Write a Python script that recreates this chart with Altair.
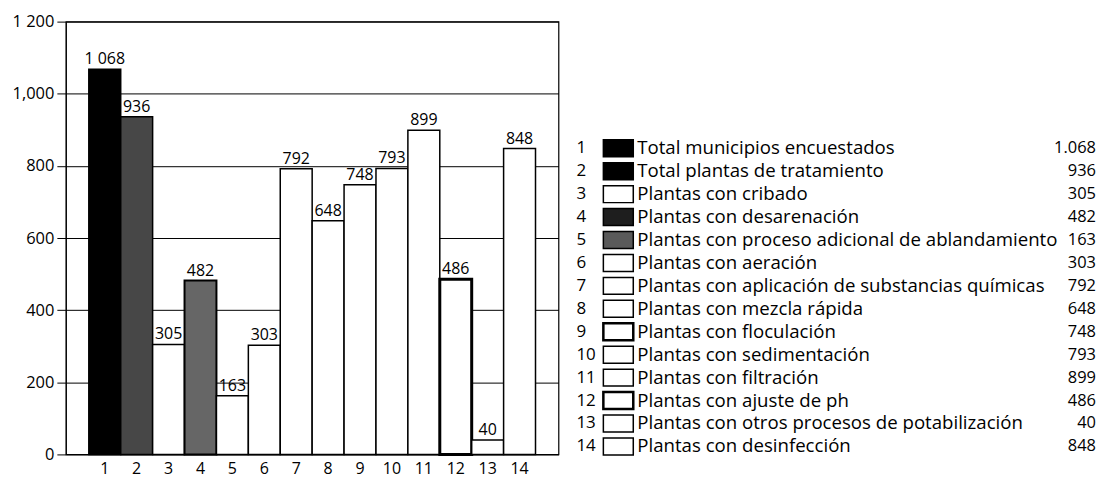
import altair as alt
import pandas as pd

FONT = "Open Sans"

categories = [str(i) for i in range(1, 15)]
values = [1068, 936, 305, 482, 163, 303, 792, 648, 748, 793, 899, 486, 40, 848]
value_labels = ["1 068", "936", "305", "482", "163", "303", "792", "648",
                "748", "793", "899", "486", "40", "848"]
legend_names = [
    "Total municipios encuestados",
    "Total plantas de tratamiento",
    "Plantas con cribado",
    "Plantas con desarenación",
    "Plantas con proceso adicional de ablandamiento",
    "Plantas con aeración",
    "Plantas con aplicación de substancias químicas",
    "Plantas con mezcla rápida",
    "Plantas con floculación",
    "Plantas con sedimentación",
    "Plantas con filtración",
    "Plantas con ajuste de ph",
    "Plantas con otros procesos de potabilización",
    "Plantas con desinfección",
]
legend_values = ["1.068", "936", "305", "482", "163", "303", "792", "648",
                 "748", "793", "899", "486", "40", "848"]
bar_fills = ["#000000", "#474747", "#ffffff", "#666666", "#ffffff", "#ffffff", "#ffffff",
             "#ffffff", "#ffffff", "#ffffff", "#ffffff", "#ffffff", "#ffffff", "#ffffff"]
bar_stroke_widths = [1.5, 1.5, 1.5, 2, 1.5, 1.5, 1.5, 1.5, 1.5, 1.5, 1.5, 3, 1.5, 1.5]
swatch_fills = ["#000000", "#000000", "#ffffff", "#1e1e1e", "#5a5a5a", "#ffffff", "#ffffff",
                "#ffffff", "#ffffff", "#ffffff", "#ffffff", "#ffffff", "#ffffff", "#ffffff"]
swatch_stroke_widths = [1.5, 1.5, 1.5, 1.5, 1.5, 1.5, 1.5, 1.5, 2.5, 1.5, 1.5, 2.5, 1.5, 1.5]
y_ticks = [0, 200, 400, 600, 800, 1000, 1200]
y_tick_labels = ["0", "200", "400", "600", "800", "1,000", "1 200"]

label_expr = " : ".join(
    [f"datum.value == {v} ? '{t}'" for v, t in zip(y_ticks, y_tick_labels)]
) + " : datum.label"

bars_df = pd.DataFrame({
    "cat": categories, "value": values, "label": value_labels,
    "fill": bar_fills, "sw": bar_stroke_widths,
})
legend_df = pd.DataFrame({
    "num": categories, "row": list(range(1, 15)), "name": legend_names,
    "val": legend_values, "fill": swatch_fills, "sw": swatch_stroke_widths,
})

x_enc = alt.X(
    "cat:N", sort=categories,
    scale=alt.Scale(paddingInner=0, paddingOuter=0.72),
    axis=alt.Axis(title=None, labelAngle=0, ticks=False, domain=False,
                  labelFontSize=16, labelPadding=6, labelColor="black", labelFont=FONT),
)
y_scale = alt.Scale(domain=[0, 1200], nice=False, zero=True)
y_enc = alt.Y(
    "value:Q", scale=y_scale,
    axis=alt.Axis(values=y_ticks, title=None, labelExpr=label_expr,
                  tickSize=9, tickColor="black", tickWidth=1,
                  domain=True, domainColor="black", domainWidth=1,
                  grid=True, gridColor="black", gridWidth=1, gridOpacity=1,
                  labelPadding=3, labelFontSize=16.5, labelColor="black", labelFont=FONT),
)

base = alt.Chart(bars_df)
bars = base.mark_bar(stroke="black").encode(
    x=x_enc, y=y_enc,
    fill=alt.Fill("fill:N", scale=None),
    strokeWidth=alt.StrokeWidth("sw:Q", scale=None),
)
bar_text = base.mark_text(baseline="alphabetic", dy=-5, fontSize=16, font=FONT, color="black").encode(
    x=x_enc, y=y_enc, text="label:N",
)

# legend rows: row 1 at ~127px below plot top, 23px apart (plot height 434)
leg_scale = alt.Scale(domain=[-4.522, 14.348], reverse=True, nice=False, zero=False)
lbase = alt.Chart(legend_df)
nums = lbase.mark_text(align="left", baseline="middle", fontSize=17, font=FONT, color="black").encode(
    x=alt.value(512), y=alt.Y("row:Q", scale=leg_scale, axis=None), text="num:N",
)
swatches = lbase.mark_rect(stroke="black").transform_calculate(
    y0="datum.row - 0.37", y1="datum.row + 0.37"
).encode(
    x=alt.value(539), x2=alt.value(569),
    y=alt.Y("y0:Q", scale=leg_scale, axis=None), y2="y1:Q",
    fill=alt.Fill("fill:N", scale=None),
    strokeWidth=alt.StrokeWidth("sw:Q", scale=None),
)
names = lbase.mark_text(align="left", baseline="middle", fontSize=18.7, font=FONT, color="black").encode(
    x=alt.value(573), y=alt.Y("row:Q", scale=leg_scale, axis=None), text="name:N",
)
vals = lbase.mark_text(align="right", baseline="middle", fontSize=16.5, font=FONT, color="black").encode(
    x=alt.value(1033), y=alt.Y("row:Q", scale=leg_scale, axis=None), text="val:N",
)

chart = alt.layer(
    alt.layer(bars, bar_text),
    alt.layer(nums, swatches, names, vals),
).resolve_scale(y="independent").properties(
    width=494, height=434,
    padding={"left": 3, "top": 5, "right": 0, "bottom": 2},
    background="white",
).configure_view(stroke="black", strokeWidth=1.2)

chart.save("out.html", embed_options={"renderer": "svg", "actions": False})
